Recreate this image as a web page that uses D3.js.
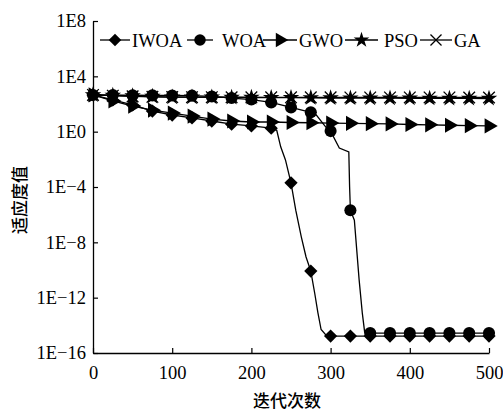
<!DOCTYPE html>
<html>
<head>
<meta charset="utf-8">
<script src="https://cdn.jsdelivr.net/npm/d3@7/dist/d3.min.js"></script>
<style>
  body { margin: 0; background: #fff; }
</style>
</head>
<body>
<script>
// 迭代次数与各算法适应度值
var iwoaIter = [0, 25, 50, 75, 100, 125, 150, 175, 200, 225, 232, 237, 243, 250, 256, 263, 269, 275, 280, 284, 288, 294, 300, 325, 350, 375, 400, 425, 450, 475, 500];
var iwoaVal = [450, 195, 85, 31, 16, 9.8, 5.9, 3.5, 2.6, 1.8, 1.25, 0.08, 0.009, 2.0e-4, 2.1e-6, 2.5e-8, 8.7e-10, 8.3e-11, 2.0e-12, 8e-14, 5e-15, 2.0e-15, 1.66e-15, 1.66e-15, 1.66e-15, 1.66e-15, 1.66e-15, 1.66e-15, 1.66e-15, 1.66e-15, 1.66e-15];

var woaIter = [0, 25, 50, 75, 100, 125, 150, 175, 200, 225, 250, 275, 282, 290, 295, 300, 311, 323, 324, 325, 330, 336, 340, 343, 350, 375, 400, 425, 450, 475, 500];
var woaVal = [450, 440, 430, 420, 410, 400, 350, 270, 210, 130, 56, 25, 16, 4.2, 1.8, 1.1, 0.066, 0.034, 1e-4, 2.1e-6, 4e-7, 2e-11, 8e-14, 3.2e-15, 2.75e-15, 2.75e-15, 2.75e-15, 2.75e-15, 2.75e-15, 2.75e-15, 2.75e-15];

var gwoIter = [0, 25, 50, 75, 100, 125, 150, 175, 200, 225, 250, 275, 300, 325, 350, 375, 400, 425, 450, 475, 500];
var gwoVal = [450, 165, 71, 36, 22, 13.5, 8.1, 5.9, 5.0, 5.0, 4.6, 4.4, 4.2, 4.0, 3.8, 3.6, 3.3, 3.1, 2.9, 2.7, 2.6];

var psoIter = [0, 25, 50, 75, 100, 125, 150, 175, 200, 225, 250, 275, 300, 325, 350, 375, 400, 425, 450, 475, 500];
var psoVal = [450, 410, 380, 345, 316, 310, 305, 300, 295, 290, 285, 280, 270, 268, 265, 262, 260, 257, 255, 252, 250];

var gaIter = [0, 25, 50, 75, 100, 125, 150, 175, 200, 225, 250, 275, 300, 325, 350, 375, 400, 425, 450, 475, 500];
var gaVal = [450, 400, 355, 330, 316, 312, 310, 308, 306, 305, 303, 302, 300, 299, 298, 297, 297, 296, 296, 295, 295];

var seriesNames = ["IWOA", "WOA", "GWO", "PSO", "GA"];
var xTickValues = [0, 100, 200, 300, 400, 500];
var yTickValues = [1e8, 1e4, 1e0, 1e-4, 1e-8, 1e-12, 1e-16];

var series = [
  { name: "IWOA", iter: iwoaIter, val: iwoaVal, mark: "diamond" },
  { name: "WOA", iter: woaIter, val: woaVal, mark: "circle" },
  { name: "GWO", iter: gwoIter, val: gwoVal, mark: "triangle" },
  { name: "PSO", iter: psoIter, val: psoVal, mark: "star" },
  { name: "GA", iter: gaIter, val: gaVal, mark: "times" }
];

const serif = "Liberation Serif";
const cjk = "Noto Sans CJK SC";

const width = 503, height = 413;
const margin = { left: 93, right: 14, top: 21, bottom: 60 };
const innerWidth = width - margin.left - margin.right;
const innerHeight = height - margin.top - margin.bottom;

var svg = d3.select("body").append("svg")
  .attr("width", width)
  .attr("height", height);

const g = svg.append("g")
  .attr("transform", `translate(${margin.left},${margin.top})`);

var xScale = d3.scaleLinear().domain([0, 500]).range([0, innerWidth]);
var yScale = d3.scaleLog().domain([1e-16, 1e8]).range([innerHeight, 0]);

// 坐标轴（刻度向内）
var xAxis = d3.axisBottom(xScale).tickValues(xTickValues).tickSize(-5).tickSizeOuter(0).tickPadding(10);
var yAxis = d3.axisLeft(yScale).tickValues(yTickValues).tickSize(-5).tickSizeOuter(0).tickPadding(7)
  .tickFormat(d => "1E" + String(Math.round(Math.log10(d))).replace("-", "\u2212"));

var xAxisG = g.append("g").attr("transform", `translate(0,${innerHeight})`).call(xAxis);
var yAxisG = g.append("g").call(yAxis);
[xAxisG, yAxisG].forEach(a => {
  a.attr("font-family", null).attr("font-size", null);
  a.select(".domain").attr("stroke", "#000").attr("stroke-width", 1.3);
  a.selectAll(".tick line").attr("stroke", "#000").attr("stroke-width", 1.2);
  a.selectAll(".tick text").attr("fill", "#000")
    .style("font-family", serif).style("font-size", "18.5px");
});
xAxisG.selectAll(".tick text").attr("dy", "0.85em");

// 标记形状
function markPath(type, scale) {
  scale = scale || 1;
  if (type === "diamond") return d3.symbol(d3.symbolSquare, 88 * scale)();
  if (type === "circle") return d3.symbol(d3.symbolCircle, 115 * scale)();
  if (type === "triangle") return d3.symbol(d3.symbolTriangle, 100 * scale)();
  if (type === "star") return d3.symbol(d3.symbolStar, 85 * scale)();
  return d3.symbol(d3.symbolTimes, 90 * scale)();
}
function markRotate(type) {
  if (type === "diamond") return 45;
  if (type === "triangle") return 90;
  return 0;
}
function drawMark(sel, type, x, y, scale) {
  var p = sel.append("path")
    .attr("d", markPath(type, scale))
    .attr("transform", `translate(${x},${y}) rotate(${markRotate(type)})`);
  if (type === "times") p.attr("fill", "none").attr("stroke", "#000").attr("stroke-width", 1.3);
  else p.attr("fill", "#000");
}

var line = d3.line().x(d => xScale(d[0])).y(d => yScale(d[1]));

// 先画线再画标记（从后往前，使IWOA在最上层）
series.slice().reverse().forEach(s => {
  var pts = s.iter.map((it, i) => [it, s.val[i]]);
  g.append("path")
    .datum(pts)
    .attr("fill", "none")
    .attr("stroke", "#000")
    .attr("stroke-width", 1.3)
    .attr("d", line);
  var mg = g.append("g");
  pts.filter(d => d[0] % 25 === 0).forEach(d => {
    drawMark(mg, s.mark, xScale(d[0]), yScale(d[1]));
  });
});

// 图例位置
var legendX0 = [100, 187, 263, 345, 420];
var legendX1 = [130, 213, 297, 378, 452];
var legendTextX = [132, 222, 299, 384, 454];
var legend = svg.append("g");
series.forEach((s, i) => {
  var x0 = legendX0[i], x1 = legendX1[i];
  legend.append("line")
    .attr("x1", x0).attr("x2", x1).attr("y1", 40).attr("y2", 40)
    .attr("stroke", "#000").attr("stroke-width", 1.3);
  drawMark(legend, s.mark, (x0 + x1) / 2, 40, 0.9);
  legend.append("text")
    .attr("x", legendTextX[i]).attr("y", 47)
    .style("font-family", serif).style("font-size", "18.5px")
    .text(seriesNames[i]);
});

// 轴标题
svg.append("text")
  .attr("x", margin.left + innerWidth / 2 - 4).attr("y", 407)
  .attr("text-anchor", "middle")
  .style("font-family", cjk)
  .style("font-size", "17px").style("font-weight", 500)
  .text("迭代次数");

svg.append("text")
  .attr("transform", "translate(26,200) rotate(-90)")
  .attr("text-anchor", "middle")
  .style("font-family", cjk)
  .style("font-size", "17px").style("font-weight", 500)
  .text("适应度值");
</script>
</body>
</html>
